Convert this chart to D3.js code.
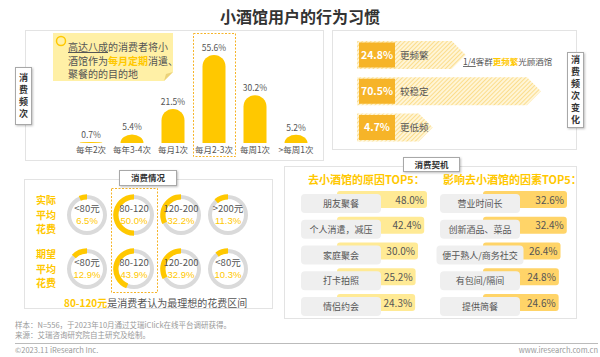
<!DOCTYPE html>
<html><head><meta charset="utf-8">
<script src="https://cdn.jsdelivr.net/npm/d3@7/dist/d3.min.js"></script>
<style>
html,body{margin:0;padding:0;background:#fff;}
svg{display:block;font-family:"Noto Sans CJK SC","Noto Sans",sans-serif;}
</style></head>
<body>
<svg id="c" width="600" height="357"></svg>
<script>
// ---------- data ----------
const freqCats = ["每年2次","每年3-4次","每月1次","每月2-3次","每周1次",">每周1次"];
const freqVals = [0.7, 5.4, 21.5, 55.6, 30.2, 5.2];
const changeLabels = ["更频繁","较稳定","更低频"];
const changeVals = [24.8, 70.5, 4.7];
const actualRanges = ["<80元","80-120","120-200",">200元"];
const actualVals = [6.5, 50.0, 32.2, 11.3];
const expectRanges = ["<80元","80-120","120-200","<80元"];
const expectVals = [12.9, 43.9, 32.9, 10.3];
const reasonLabels = ["朋友聚餐","个人消遣，减压","家庭聚会","打卡拍照","情侣约会"];
const reasonVals = [48.0, 42.4, 30.0, 25.2, 24.3];
const factorLabels = ["营业时间长","创新酒品、菜品","便于熟人/商务社交","有包间/隔间","提供简餐"];
const factorVals = [32.6, 32.4, 26.4, 24.8, 24.6];

const YEL = "#FFC800", ORG = "#F6B428", TXT = "#555", GRAY = "#999";
const LAT = "'Liberation Sans','DejaVu Sans',sans-serif";
const svg = d3.select("#c");

// defs
const defs = svg.append("defs");
const pat = defs.append("pattern").attr("id","hatch").attr("width",3).attr("height",3)
  .attr("patternUnits","userSpaceOnUse").attr("patternTransform","rotate(45)");
pat.append("rect").attr("width",3).attr("height",3).attr("fill","#FFF5D6");
pat.append("line").attr("x1",0).attr("y1",0).attr("x2",0).attr("y2",3).attr("stroke","#FAD77A").attr("stroke-width",1.6);
const sh = defs.append("filter").attr("id","sh").attr("x","-20%").attr("y","-20%").attr("width","140%").attr("height","140%");
sh.append("feDropShadow").attr("dx",1).attr("dy",1).attr("stdDeviation",0.8).attr("flood-color","#000").attr("flood-opacity",0.25);

// title
svg.append("text").attr("x",300).attr("y",23).attr("text-anchor","middle")
  .attr("font-size",16).attr("font-weight","bold").attr("fill","#333").text("小酒馆用户的行为习惯");

// panels
function panel(x,y,w,h){svg.append("rect").attr("x",x).attr("y",y).attr("width",w).attr("height",h)
  .attr("fill","#fff").attr("stroke","#E3E3E3").attr("stroke-width",1);}
panel(25.5,30.5,298,130);
panel(332.5,30.5,244,119);
panel(24.5,179.5,248,129);
panel(284.5,166.5,292,152);

// multi-line text as one element
function lines(x, y0, gap, arr, attrs){
  const t = svg.append("text").attr("x",x).attr("y",y0);
  Object.entries(attrs).forEach(([k,v])=>t.attr(k,v));
  arr.forEach((s,i)=>t.append("tspan").attr("x",x).attr("dy", i===0?0:gap).text(s));
  return t;
}
function vLabel(x,y,w,h,txt){
  svg.append("rect").attr("x",x).attr("y",y).attr("width",w).attr("height",h)
    .attr("fill","#fff").attr("stroke","#A8A8A8").attr("filter","url(#sh)");
  const chars = Array.from(txt), gap=12, start = y + h/2 - (chars.length-1)*gap/2;
  lines(x+w/2, start+3.3, gap, chars, {"text-anchor":"middle","font-size":9,"font-weight":"bold","fill":"#333"});
}
function hLabel(x,y,w,h,txt){
  svg.append("rect").attr("x",x).attr("y",y).attr("width",w).attr("height",h)
    .attr("fill","#fff").attr("stroke","#A8A8A8").attr("filter","url(#sh)");
  svg.append("text").attr("x",x+w/2).attr("y",y+h/2+3.2).attr("text-anchor","middle")
    .attr("font-size",8.5).attr("font-weight","bold").attr("fill","#333").text(txt);
}

// ---------- top-left: frequency bars ----------
const xB = d3.scalePoint().domain(freqCats).range([91,296]);
const yB = d3.scaleLinear().domain([0,55.6]).range([143,55]);
const bw = 23;
svg.append("rect").attr("x",193.5).attr("y",33.5).attr("width",42).attr("height",123)
  .attr("fill","none").attr("stroke",ORG).attr("stroke-dasharray","2,1.5").attr("stroke-width",1);
function barPath(cx, yTop, yBase){
  const h = yBase - yTop, r = bw/2, ry = Math.min(r, h);
  const x0 = cx - r, x1 = cx + r;
  return `M${x0},${yBase} L${x0},${yTop+ry} A${r},${ry} 0 0 1 ${x1},${yTop+ry} L${x1},${yBase} Z`;
}
const bg = svg.append("g");
freqCats.forEach((c,i)=>{
  const v = freqVals[i];
  bg.append("path").attr("d",barPath(xB(c), yB(v), yB(0))).attr("fill",YEL);
  bg.append("text").attr("x",xB(c)).attr("y",yB(v)-4).attr("text-anchor","middle")
    .attr("font-size",8.5).attr("fill",TXT).text(v.toFixed(1)+"%");
  bg.append("text").attr("x",xB(c)).attr("y",yB(0)+10).attr("text-anchor","middle")
    .attr("font-size",8.5).attr("fill",TXT).text(c);
});
// callout
svg.append("path").attr("d","M53,33 L173,33 L173,72 L164,81 L53,81 Z").attr("fill","#FFF0A6");
svg.append("path").attr("d","M164,81 L166,74 L173,72 Z").attr("fill","#EBD27A");
svg.append("circle").attr("cx",61).attr("cy",41).attr("r",4.5).attr("fill","none").attr("stroke",YEL).attr("stroke-width",1.5);
const tc = svg.append("text").attr("x",68).attr("y",51).attr("font-size",10).attr("fill",TXT);
tc.append("tspan").attr("text-decoration","underline").text("高达八成");
tc.append("tspan").text("的消费者将小");
tc.append("tspan").attr("x",68).attr("dy",13.5).text("酒馆作为");
tc.append("tspan").attr("fill",YEL).attr("font-weight","bold").text("每月定期");
tc.append("tspan").text("消遣、");
tc.append("tspan").attr("x",68).attr("dy",13.5).text("聚餐的的目的地");
vLabel(15.5,67.5,16,57,"消费频次");

// ---------- top-right: frequency change arrows ----------
const aLen = d3.scaleLinear().domain([0,70.5]).range([68,184]);
const yA = d3.scalePoint().domain(changeLabels).range([55,127.5]);
changeLabels.forEach((l,i)=>{
  const cy = yA(l), x0 = 357, x1 = x0 + aLen(changeVals[i]), hh = 14, head = 14;
  svg.append("path").attr("d",`M${x0},${cy-hh} L${x1-head},${cy-hh} L${x1},${cy} L${x1-head},${cy+hh} L${x0},${cy+hh} Z`)
    .attr("fill","url(#hatch)");
  svg.append("rect").attr("x",359).attr("y",cy-12.5).attr("width",36).attr("height",25).attr("fill",ORG);
  svg.append("text").attr("x",377).attr("y",cy+3.8).attr("text-anchor","middle").attr("font-size",10.5)
    .attr("font-weight","bold").attr("fill","#fff").text(changeVals[i].toFixed(1)+"%");
  svg.append("text").attr("x",400).attr("y",cy+3.5).attr("font-size",9.5).attr("fill",TXT).text(l);
});
const t3 = svg.append("text").attr("x",463).attr("y",65).attr("font-size",8.5).attr("fill",TXT);
t3.append("tspan").attr("text-decoration","underline").text("1/4");
t3.append("tspan").text("客群");
t3.append("tspan").attr("fill",YEL).attr("font-weight","bold").text("更频繁");
t3.append("tspan").text("光顾酒馆");
vLabel(567.5,52.5,16,75,"消费频次变化");

// ---------- bottom-left: spending donuts ----------
const xD = d3.scalePoint().domain([0,1,2,3]).range([87,228]);
const rowsD = [{y:215, names:actualRanges, vals:actualVals, lab:["实际","平均","花费"]},
               {y:269, names:expectRanges, vals:expectVals, lab:["期望","平均","花费"]}];
svg.append("rect").attr("x",111.5).attr("y",188.5).attr("width",46).attr("height",104)
  .attr("fill","none").attr("stroke",ORG).attr("stroke-dasharray","2,1.5").attr("stroke-width",1);
const ring = d3.arc().innerRadius(16).outerRadius(20).startAngle(0).endAngle(2*Math.PI);
const arcV = d3.arc().innerRadius(15.5).outerRadius(20.8);
rowsD.forEach(row=>{
  lines(46, row.y-14.5+3.6, 14.5, row.lab, {"text-anchor":"middle","font-size":10,"font-weight":"bold","fill":YEL});
  row.names.forEach((n,i)=>{
    const g = svg.append("g").attr("transform",`translate(${xD(i)},${row.y})`);
    g.append("path").attr("d",ring()).attr("fill","#DADADA");
    g.append("path").attr("d",arcV({startAngle:-row.vals[i]/100*2*Math.PI, endAngle:0})).attr("fill",YEL);
    const t = g.append("text").attr("x",0).attr("y",-3).attr("text-anchor","middle").attr("font-size",9.5).attr("fill",TXT);
    t.append("tspan").text(n);
    t.append("tspan").attr("x",0).attr("dy",12).attr("fill",YEL).attr("font-family",LAT).text(row.vals[i].toFixed(1)+"%");
  });
});
const t4 = svg.append("text").attr("x",64).attr("y",307).attr("font-size",10).attr("fill",TXT);
t4.append("tspan").attr("fill",YEL).attr("font-weight","bold").text("80-120元");
t4.append("tspan").text("是消费者认为最理想的花费区间");
hLabel(119.5,170.5,57,15,"消费情况");

// ---------- bottom-right: reasons & factors ----------
svg.append("text").attr("x",308).attr("y",184).attr("font-size",11).attr("font-weight","bold").attr("fill",YEL).text("去小酒馆的原因TOP5：");
svg.append("text").attr("x",443).attr("y",184).attr("font-size",11).attr("font-weight","bold").attr("fill",YEL).text("影响去小酒馆的因素TOP5：");
const yR = d3.scalePoint().domain(d3.range(5)).range([203,306]);
function column(labels, vals, wScale, barX, pillCx, fill){
  labels.forEach((l,i)=>{
    const cy = yR(i), w = wScale(vals[i]);
    svg.append("rect").attr("x",barX).attr("y",cy-12).attr("width",w).attr("height",17).attr("rx",3).attr("fill",fill);
    const tw = Array.from(l).length*9;
    const pw = Math.max(80, tw+6);
    svg.append("rect").attr("x",pillCx-pw/2).attr("y",cy-9).attr("width",pw).attr("height",19).attr("rx",4).attr("fill","#EFEFEF");
    svg.append("text").attr("x",pillCx).attr("y",cy+4).attr("text-anchor","middle").attr("font-size",9).attr("fill",TXT).text(l);
    svg.append("text").attr("x",barX+w-3).attr("y",cy+0.5).attr("text-anchor","end").attr("font-size",10).attr("fill",TXT).text(vals[i].toFixed(1)+"%");
  });
}
column(reasonLabels, reasonVals, d3.scaleLinear().domain([0,48]).range([66,90]), 337, 341, "#FFEA95");
column(factorLabels, factorVals, d3.scaleLinear().domain([0,32.6]).range([50,84]), 483, 480, "#FFD468");
hLabel(403.5,157.5,56,14,"消费契机");

// ---------- footer ----------
lines(15, 328, 10, ["样本：N=556，于2023年10月通过艾瑞iClick在线平台调研获得。","来源：艾瑞咨询研究院自主研究及绘制。"],
  {"font-size":7.5,"fill":GRAY});
svg.append("line").attr("x1",15).attr("x2",598).attr("y1",343.5).attr("y2",343.5).attr("stroke","#BBB").attr("stroke-width",1);
svg.append("text").attr("x",15).attr("y",353).attr("font-size",7.5).attr("fill",GRAY).text("©2023.11 iResearch Inc.");
svg.append("text").attr("x",598).attr("y",353).attr("text-anchor","end").attr("font-size",7.5).attr("fill",GRAY).text("www.iresearch.com.cn");
</script>
</body></html>
